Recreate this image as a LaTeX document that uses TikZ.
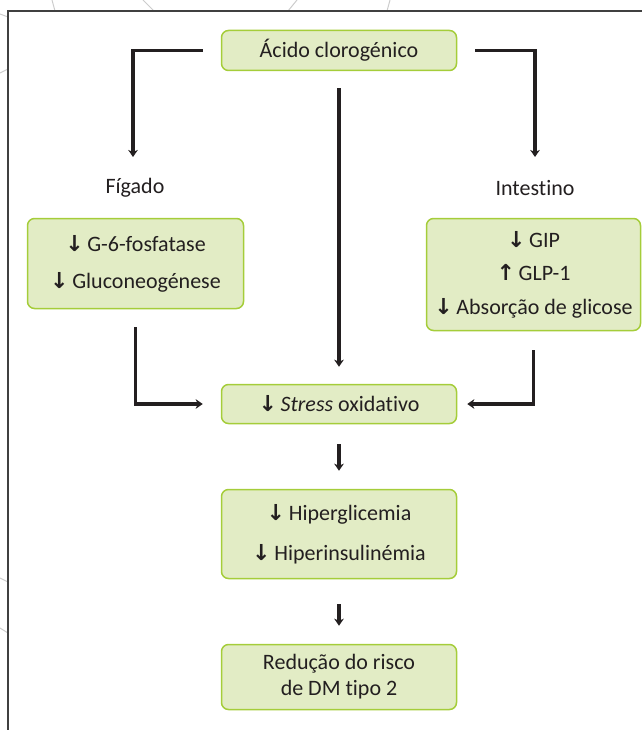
\documentclass[tikz,border=0pt]{standalone}
\usepackage{fontspec}
\setmainfont[Ligatures=NoCommon]{Carlito}
\newfontfamily\arrowfont{DejaVu Sans}
\usetikzlibrary{arrows.meta,positioning}
\definecolor{boxfill}{HTML}{E2ECC5}
\definecolor{boxline}{HTML}{A5CD3A}
\definecolor{ink}{HTML}{231F20}
\newcommand{\arrdn}{{\arrowfont\bfseries ↓}\,}
\newcommand{\arrup}{{\arrowfont\bfseries ↑}\,}

\begin{document}
\begin{tikzpicture}[x=1pt,y=-1pt,>={Stealth[length=7pt,width=9.5pt,inset=2pt]},every node/.style={font=\fontsize{22}{25}\selectfont,text=ink},bx/.style={draw=boxline,fill=boxfill,line width=1.5pt,rounded corners=7pt,align=center,inner sep=0pt,minimum width=235pt},ln/.style={draw=ink,line width=3.3pt},deco/.style={draw=black!20,line width=1pt}]
\useasboundingbox (0,0) rectangle (642,730);
% background pattern and frame
\draw[deco] (52,0)--(55,11);
\draw[deco] (143,0)--(154,11);
\draw[deco] (297,0)--(288,11);
\draw[deco] (390,0)--(387,11);
\draw[deco] (0,14)--(8,17);
\draw[deco] (0,73)--(8,69);
\draw[deco] (0,578)--(8,582);
\draw[deco] (0,628)--(8,633);
\draw[draw=black!75,line width=1.3pt] (8,730)--(8,11)--(642,11);
% boxes
\node[bx,minimum height=40pt] (acido) at (339,50.5) {Ácido clorogénico};
\node (figado) at (135,188) {Fígado};
\node (intestino) at (535,188) {Intestino};
\coordinate (figin) at (133,157);
\coordinate (intin) at (535,157);
\node[bx,minimum width=216pt,minimum height=90pt] (fig) at (135.5,263.5) {\arrdn G-6-fosfatase\\[12pt]\arrdn Gluconeogénese};
\node[bx,minimum width=214pt,minimum height=112pt] (int) at (533.5,274.5) {\arrdn GIP\\[8.5pt]\arrup GLP-1\\[8.5pt]\arrdn Absorção de glicose};
\node[bx,minimum height=39pt] (stress) at (339,404) {\arrdn\textit{Stress} oxidativo};
\node[bx,minimum height=89pt] (hiper) at (339,534) {\arrdn Hiperglicemia\\[15pt]\arrdn Hiperinsulinémia};
\node[bx,minimum height=65pt] (risco) at (339,677) {Redução do risco\\[1pt]de DM tipo 2};
% connectors
\draw[->,ln,shorten <=18pt] (acido.west) -| (figin);
\draw[->,ln,shorten <=18pt] (acido.east) -| (intin);
\draw[->,ln,shorten <=17pt,shorten >=17pt] (acido) -- (stress);
\draw[->,ln,shorten <=18pt,shorten >=18pt] (fig.south) |- (stress.west);
\draw[->,ln,shorten <=19pt,shorten >=10pt] (int.south) |- (stress.east);
\draw[->,ln,shorten <=20pt,shorten >=18pt] (stress) -- (hiper);
\draw[->,ln,shorten <=25pt,shorten >=18pt] (hiper) -- (risco);
\end{tikzpicture}
\end{document}
